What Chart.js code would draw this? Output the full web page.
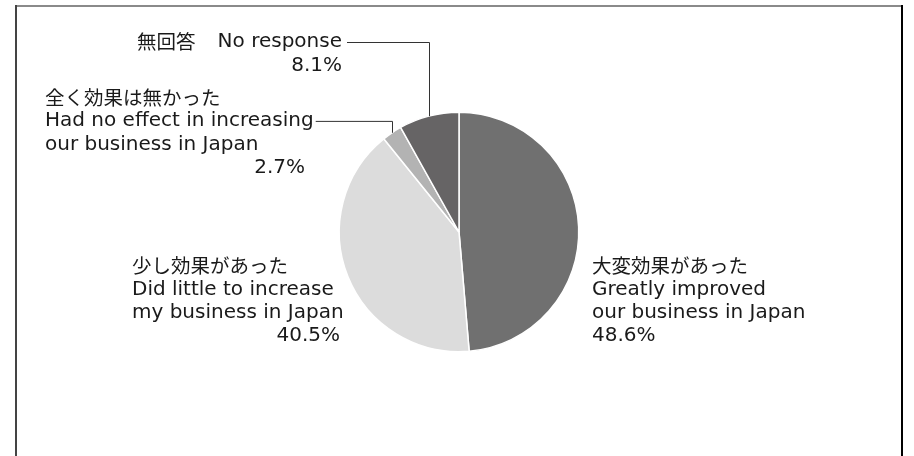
<!DOCTYPE html>
<html>
<head>
<meta charset="utf-8">
<script src="https://cdn.jsdelivr.net/npm/chart.js@4"></script>
<style>
  html, body { margin: 0; padding: 0; background: #fff; }
  #wrap { position: relative; width: 914px; height: 456px; }
</style>
</head>
<body>
<div id="wrap"><canvas id="pie-chart"></canvas></div>
<script>
// data
const labelsJa = ['大変効果があった', '少し効果があった', '全く効果は無かった', '無回答'];
const labelsEn = [
  ['Greatly improved', 'our business in Japan'],
  ['Did little to increase', 'my business in Japan'],
  ['Had no effect in increasing', 'our business in Japan'],
  ['No response'],
];
const values = [48.6, 40.5, 2.7, 8.1];
const colors = ['#707070', '#dcdcdc', '#b3b3b3', '#666465'];

const FONT_EN = '20px "DejaVu Sans", "Noto Sans CJK JP", sans-serif';
const FONT_JA = '19.5px "Noto Sans CJK JP", sans-serif';
const LH = 23.4;

// where each label block sits (x, y of first line, alignment, leader line)
const labelPos = [
  { x: 592, y: 266, align: 'left' },
  { x: 132, y: 266, align: 'left', pctX: 340 },
  { x: 45, y: 97.5, align: 'left', pctX: 305, leader: true },
  { x: 342, y: 42, align: 'right', inline: true, leader: true },
];

function drawLine(ctx, text, x, y, align, isJa) {
  ctx.textAlign = align;
  ctx.font = isJa ? FONT_JA : FONT_EN;
  ctx.fillText(text, x, y);
}

const labelPlugin = {
  id: 'labelPlugin',
  beforeDraw(chart) {
    const ctx = chart.ctx;
    ctx.save();
    // frame
    ctx.lineWidth = 2;
    ctx.strokeStyle = '#8a8a8a';
    ctx.beginPath(); ctx.moveTo(15, 6); ctx.lineTo(902, 6); ctx.stroke();
    ctx.strokeStyle = '#444';
    ctx.beginPath(); ctx.moveTo(16, 5); ctx.lineTo(16, 456); ctx.stroke();
    ctx.strokeStyle = '#000';
    ctx.beginPath(); ctx.moveTo(902, 5); ctx.lineTo(902, 456); ctx.stroke();
    ctx.restore();
  },
  afterDraw(chart) {
    const ctx = chart.ctx;
    const arcs = chart.getDatasetMeta(0).data;
    ctx.save();
    ctx.fillStyle = '#1a1a1a';
    ctx.textBaseline = 'middle';
    values.forEach(function (v, i) {
      const p = labelPos[i];
      const pct = v.toFixed(1) + '%';
      let y = p.y;
      let lineEndX, lineY;
      if (p.inline) {
        ctx.font = FONT_EN;
        const enW = ctx.measureText(labelsEn[i][0]).width;
        drawLine(ctx, labelsEn[i][0], p.x, y, 'right', false);
        drawLine(ctx, labelsJa[i], p.x - enW - 22, y, 'right', true);
        lineEndX = p.x + 5;
        lineY = y;
        y += LH;
      } else {
        drawLine(ctx, labelsJa[i], p.x, y, p.align, true);
        y += LH;
        labelsEn[i].forEach(function (t, k) {
          drawLine(ctx, t, p.x, y, p.align, false);
          if (k === 0) {
            lineEndX = p.x + ctx.measureText(t).width + 2;
            lineY = y;
          }
          y += LH;
        });
      }
      if (p.pctX) {
        drawLine(ctx, pct, p.pctX, y, 'right', false);
      } else {
        drawLine(ctx, pct, p.x, y, p.align, false);
      }
      if (p.leader) {
        const a = arcs[i];
        const mid = (a.startAngle + a.endAngle) / 2;
        const mx = a.x + Math.cos(mid) * a.outerRadius;
        const my = a.y + Math.sin(mid) * a.outerRadius;
        ctx.strokeStyle = '#333';
        ctx.lineWidth = 1;
        ctx.beginPath();
        ctx.moveTo(lineEndX, lineY + 0.5);
        ctx.lineTo(Math.round(mx) + 0.5, lineY + 0.5);
        ctx.lineTo(Math.round(mx) + 0.5, my);
        ctx.stroke();
      }
    });
    ctx.restore();
  },
};

const pieConfig = {
  type: 'pie',
  data: {
    labels: labelsJa,
    datasets: [
      {
        data: values,
        backgroundColor: colors,
        borderColor: '#ffffff',
        borderWidth: 1.5,
      },
    ],
  },
  options: {
    responsive: false,
    animation: false,
    layout: {
      padding: { top: 111.5, bottom: 103.5, left: 4, right: 0 },
    },
    plugins: {
      legend: { display: false },
      tooltip: { enabled: false },
    },
  },
  plugins: [labelPlugin],
};

let canvas = document.getElementById('pie-chart');
canvas.width = 914;
canvas.height = 456;
new Chart(canvas, pieConfig);
</script>
</body>
</html>
